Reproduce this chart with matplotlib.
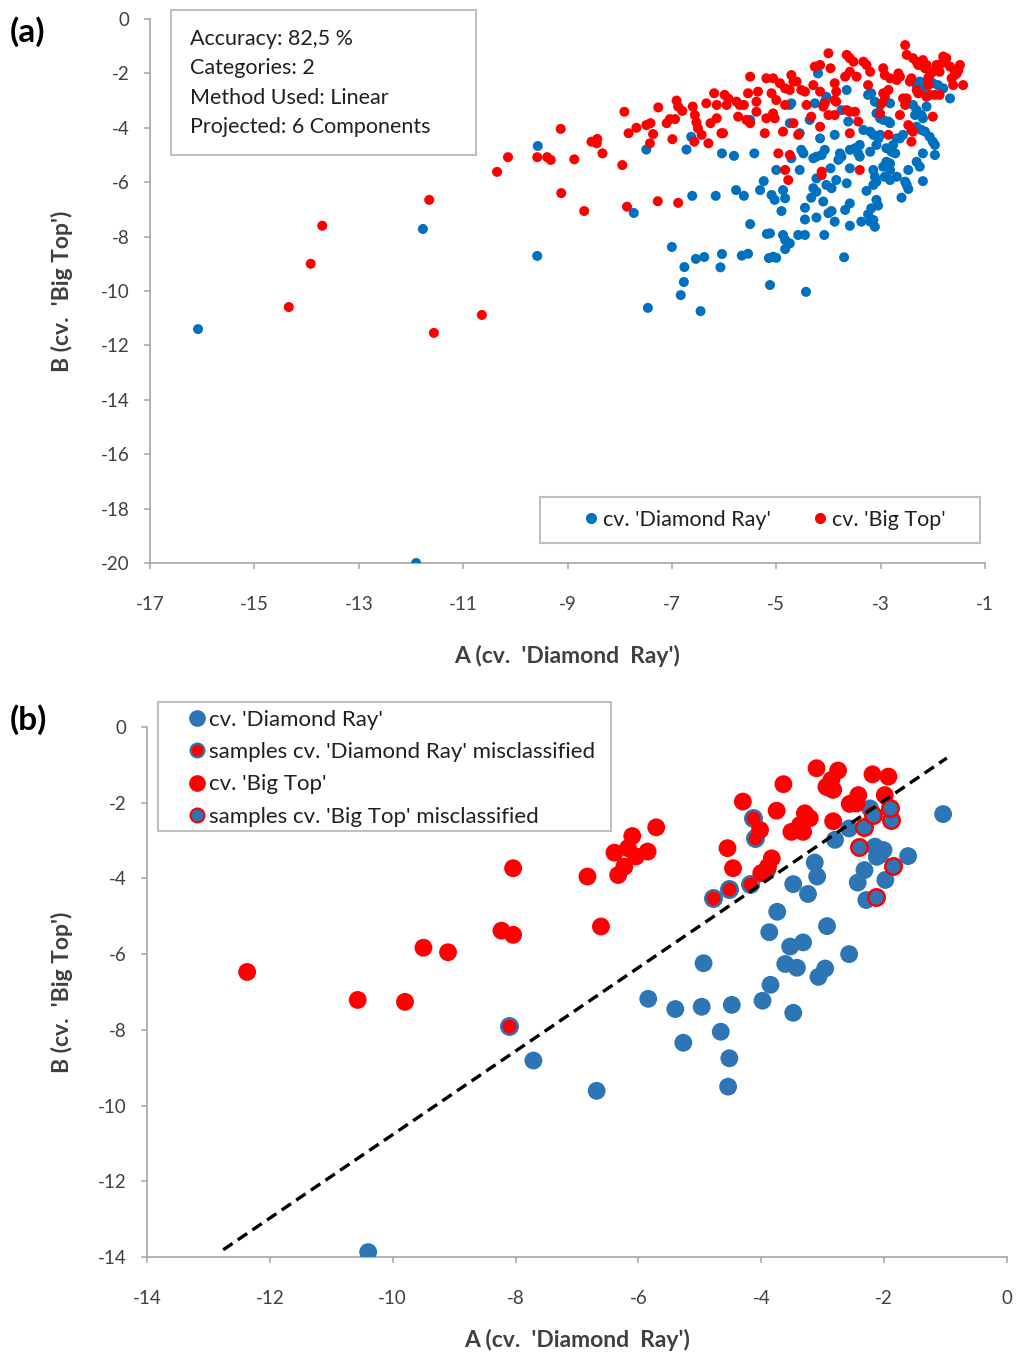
import numpy as np
import matplotlib
matplotlib.use('Agg')
import matplotlib.pyplot as plt
from matplotlib.patches import Rectangle
from matplotlib.lines import Line2D

plt.rcParams['font.family'] = ['Lato', 'DejaVu Sans']
plt.rcParams['axes.unicode_minus'] = False

# ---- panel (a): projected samples, two cultivars
a_blue = [
    (-16.08, -11.4), (-11.9, -20.0), (-11.77, -7.72), (-9.58, -8.71), (-9.57, -4.67),
    (-7.73, -7.13), (-7.49, -4.8), (-7.46, -10.62), (-7.0, -8.38), (-6.76, -9.12),
    (-6.77, -9.67), (-6.83, -10.15), (-6.54, -8.82), (-6.38, -8.75), (-6.61, -6.5),
    (-6.16, -6.5), (-5.77, -6.29), (-5.62, -6.5), (-5.31, -6.29), (-5.24, -5.96),
    (-5.5, -7.54), (-5.18, -7.9), (-5.14, -8.79), (-6.45, -10.74), (-6.07, -9.13),
    (-6.04, -8.64), (-5.66, -8.7), (-5.54, -8.63), (-5.12, -9.78), (-4.43, -10.03),
    (-6.72, -4.8), (-6.63, -4.33), (-6.04, -4.94), (-5.81, -5.03), (-5.42, -4.94),
    (-5.5, -3.71),
    (-4.2, -2.0), (-3.65, -2.61), (-3.24, -2.79), (-3.18, -2.73), (-3.11, -3.04),
    (-3.01, -3.16), (-2.82, -3.1), (-3.08, -3.47), (-3.01, -3.65), (-2.95, -3.71),
    (-2.85, -3.77), (-2.82, -3.83), (-4.07, -3.04), (-4.04, -2.86), (-4.26, -3.1),
    (-3.75, -3.35), (-3.62, -3.77), (-3.33, -4.08), (-3.2, -4.14), (-3.14, -4.26),
    (-3.04, -4.39), (-3.88, -4.26), (-4.16, -4.39), (-4.55, -4.2), (-4.74, -3.16),
    (-4.71, -3.1), (-4.36, -3.71), (-4.74, -3.83), (-2.31, -2.43), (-2.25, -2.3),
    (-2.19, -2.55), (-2.0, -2.36), (-1.9, -2.43), (-1.8, -2.55), (-1.67, -2.92),
    (-2.38, -3.16), (-2.31, -3.35), (-2.34, -3.53), (-2.22, -3.53), (-2.19, -3.65),
    (-2.12, -3.22), (-2.57, -4.26), (-2.63, -4.39), (-2.31, -3.96), (-2.22, -4.08),
    (-2.15, -4.14), (-2.06, -4.33), (-2.0, -4.51), (-1.96, -4.63), (-1.96, -5.0),
    (-2.19, -4.94), (-2.31, -5.25), (-2.25, -5.43), (-2.47, -5.55), (-2.69, -4.39),
    (-2.76, -4.63), (-3.01, -4.26), (-3.08, -4.63), (-3.2, -4.88), (-2.89, -4.75),
    (-2.79, -4.88), (-2.72, -4.94), (-2.89, -5.25), (-2.82, -5.31), (-3.4, -4.63),
    (-3.49, -4.75), (-3.59, -4.81), (-3.43, -4.94), (-3.4, -5.06), (-3.78, -4.94),
    (-3.75, -5.06), (-3.81, -5.18), (-4.07, -4.81), (-4.13, -5.0), (-4.23, -5.06),
    (-4.29, -5.12), (-4.52, -4.81), (-4.48, -4.94), (-4.71, -5.12), (-5.0, -5.55),
    (-4.55, -5.55), (-3.96, -5.49), (-3.59, -5.49), (-3.14, -5.55), (-2.95, -5.43),
    (-2.82, -5.55),
    (-4.23, -5.86), (-4.04, -6.1), (-3.94, -6.22), (-3.85, -5.92), (-3.65, -6.04),
    (-4.29, -6.22), (-4.23, -6.35), (-4.33, -6.57), (-4.1, -6.71), (-4.87, -6.29),
    (-4.83, -6.59), (-5.03, -6.65), (-5.09, -6.47), (-4.9, -7.06), (-4.45, -6.94),
    (-4.45, -7.37), (-4.23, -7.3), (-4.0, -7.14), (-3.94, -7.06), (-3.88, -7.45),
    (-3.68, -7.02), (-3.59, -6.78), (-3.59, -7.6), (-3.37, -7.45), (-3.24, -7.18),
    (-3.18, -6.96), (-3.08, -6.65), (-3.05, -6.86), (-3.2, -7.45), (-3.14, -7.39),
    (-3.11, -7.64), (-3.27, -6.32), (-3.14, -6.1), (-3.08, -5.98), (-3.11, -5.8),
    (-2.92, -5.8), (-2.82, -5.92), (-2.69, -5.8), (-2.53, -5.98), (-2.47, -6.25),
    (-2.5, -6.1), (-2.6, -6.57), (-2.19, -5.96), (-5.12, -7.88), (-4.87, -7.94),
    (-4.83, -8.12), (-4.74, -8.25), (-4.83, -8.46), (-4.58, -7.94), (-4.45, -7.94),
    (-4.08, -7.94), (-5.06, -8.74), (-5.0, -8.78), (-3.7, -8.76),
]
a_red = [
    (-14.34, -10.59), (-13.92, -9.0), (-13.7, -7.6), (-11.65, -6.65), (-11.56, -11.54),
    (-10.64, -10.88), (-10.35, -5.62), (-10.14, -5.08), (-9.58, -5.08), (-9.39, -5.08),
    (-9.32, -5.18), (-9.13, -4.04), (-9.12, -6.4), (-8.68, -7.06), (-7.86, -6.9),
    (-7.27, -6.7), (-6.88, -6.76),
    (-8.87, -5.16), (-8.54, -4.51), (-8.43, -4.41), (-8.44, -4.57), (-8.33, -4.94),
    (-7.95, -5.37), (-7.91, -3.41), (-7.83, -4.2), (-7.68, -4.0), (-7.49, -3.9),
    (-7.41, -3.83), (-7.36, -4.23), (-7.42, -4.57), (-7.26, -3.25), (-7.1, -3.83),
    (-7.04, -3.68), (-6.94, -3.68), (-6.99, -4.42), (-6.91, -3.0), (-6.88, -3.22),
    (-6.8, -3.38), (-6.6, -3.22), (-6.56, -3.53), (-6.53, -3.8), (-6.5, -4.02),
    (-6.43, -4.26), (-6.34, -3.1), (-6.26, -3.83), (-6.57, -4.51), (-6.3, -4.57),
    (-6.19, -2.73), (-6.14, -3.16), (-6.14, -3.65), (-6.05, -4.2), (-6.02, -4.2),
    (-5.99, -2.79), (-5.92, -2.92), (-5.95, -3.16), (-5.76, -3.04), (-5.7, -3.16),
    (-5.62, -3.16), (-5.73, -3.59), (-5.57, -3.71), (-5.5, -3.83), (-5.54, -2.73),
    (-5.5, -2.12), (-5.35, -2.67), (-5.38, -3.04), (-5.38, -3.41), (-5.22, -4.2),
    (-5.19, -3.65), (-5.19, -2.18),
    (-4.0, -1.26), (-4.26, -1.75), (-4.16, -1.69), (-3.96, -1.81), (-3.65, -1.32),
    (-3.59, -1.44), (-3.52, -1.57), (-3.33, -1.57), (-3.27, -1.69), (-3.2, -1.94),
    (-3.59, -1.94), (-3.46, -2.12), (-3.68, -2.12), (-5.06, -2.18), (-4.71, -2.06),
    (-4.67, -2.3), (-4.61, -2.3), (-4.93, -2.36), (-4.83, -2.55), (-4.74, -2.61),
    (-4.52, -2.61), (-4.45, -2.67), (-4.29, -2.43), (-4.16, -2.67), (-3.88, -2.36),
    (-3.85, -2.67), (-3.88, -2.98), (-3.85, -3.04), (-4.07, -3.1), (-4.1, -3.22),
    (-4.42, -3.16), (-4.83, -3.16), (-5.06, -3.47), (-5.03, -3.65), (-4.33, -3.59),
    (-4.16, -3.96), (-4.0, -3.53), (-3.88, -3.53), (-3.65, -3.35), (-3.59, -3.41),
    (-3.49, -3.41), (-3.43, -3.77), (-3.59, -4.2), (-4.58, -4.26), (-4.67, -3.83),
    (-4.87, -4.14), (-4.96, -4.94), (-4.74, -5.0), (-4.83, -5.55), (-4.13, -5.61),
    (-3.4, -5.55), (-3.24, -2.43), (-2.95, -1.81), (-2.92, -2.06), (-2.82, -2.18),
    (-2.66, -2.0), (-2.69, -2.24), (-2.63, -2.12), (-2.95, -2.73), (-2.92, -2.86),
    (-2.85, -2.61), (-2.98, -3.1), (-3.01, -3.47), (-2.63, -3.53), (-2.57, -2.92),
    (-2.5, -2.92), (-2.53, -3.16), (-2.41, -2.18), (-2.44, -2.3), (-2.31, -2.61),
    (-2.28, -2.73), (-2.47, -3.9), (-2.41, -4.08), (-2.38, -4.14), (-2.85, -4.26),
    (-2.41, -4.51), (-2.53, -0.96), (-2.5, -1.32), (-2.38, -1.44), (-2.31, -1.57),
    (-2.28, -1.69), (-2.19, -1.51), (-2.12, -1.69), (-2.15, -1.81), (-2.06, -2.06),
    (-2.09, -2.18), (-2.09, -2.43), (-2.0, -1.94), (-1.93, -1.69), (-1.8, -1.38),
    (-1.74, -1.44), (-1.83, -1.63), (-1.93, -1.81), (-1.87, -1.94), (-2.06, -2.79),
    (-1.96, -2.79), (-1.87, -2.79), (-2.12, -2.86), (-1.67, -1.75), (-1.58, -1.88),
    (-1.48, -1.69), (-1.64, -2.18), (-1.61, -2.43), (-1.58, -2.06), (-1.42, -2.43),
    (-1.51, -1.88), (-1.54, -2.0), (-2.0, -3.59), (-5.09, -2.73), (-5.0, -2.98),
    (-4.77, -5.92), (-4.13, -5.74),
]
a_info = ['Accuracy: 82,5 %', 'Categories: 2', 'Method Used: Linear',
          'Projected: 6 Components']

# ---- panel (b): validation samples and decision line
b_blue = [
    (-10.4, -13.87), (-7.71, -8.81), (-6.68, -9.61), (-5.84, -7.18), (-5.4, -7.45),
    (-4.97, -7.39), (-4.48, -7.34), (-4.94, -6.24), (-5.27, -8.34), (-4.66, -8.05),
    (-4.52, -8.75), (-4.54, -9.5), (-3.98, -7.23), (-3.85, -6.81), (-3.87, -5.42),
    (-3.74, -4.88), (-3.53, -5.8), (-3.32, -5.69), (-2.93, -5.26), (-2.57, -6.0),
    (-3.61, -6.26), (-3.42, -6.36), (-2.96, -6.38), (-3.07, -6.6), (-3.48, -7.55),
    (-3.48, -4.15), (-3.24, -4.41), (-3.09, -3.95), (-3.13, -3.58), (-2.8, -2.98),
    (-2.57, -2.68), (-1.61, -3.41), (-1.04, -2.3), (-2.32, -3.78), (-2.43, -4.11),
    (-1.98, -4.04), (-2.29, -4.57), (-2.15, -3.16), (-2.01, -3.25), (-2.12, -3.43),
    (-2.07, -3.38), (-2.23, -2.15),
]
b_blue_miss = [
    (-8.1, -7.89), (-4.78, -4.52), (-4.52, -4.29), (-4.18, -4.15), (-4.13, -2.41),
    (-4.1, -2.94), (-3.93, -3.78), (-2.89, -1.58),
]
b_red = [
    (-12.37, -6.47), (-10.57, -7.21), (-9.8, -7.26), (-9.5, -5.83), (-9.1, -5.95),
    (-8.23, -5.38), (-8.04, -5.49), (-8.04, -3.73), (-6.83, -3.95), (-6.61, -5.27),
    (-6.39, -3.32), (-6.33, -3.91), (-6.23, -3.69), (-6.17, -3.2), (-6.1, -2.88),
    (-6.04, -3.42), (-5.85, -3.29), (-5.71, -2.65),
    (-3.1, -1.09), (-2.75, -1.15), (-2.86, -1.4), (-2.94, -1.58), (-2.83, -1.66),
    (-2.19, -1.25), (-1.93, -1.31), (-3.64, -1.51), (-4.3, -1.97), (-3.75, -2.21),
    (-3.29, -2.28), (-3.21, -2.41), (-3.37, -2.59), (-3.51, -2.77), (-3.32, -2.77),
    (-2.83, -2.49), (-2.42, -1.8), (-2.56, -2.03), (-2.45, -2.02), (-1.99, -1.8),
    (-4.55, -3.2), (-4.46, -3.73), (-3.83, -3.47), (-3.89, -3.69), (-4.0, -3.86),
    (-4.02, -2.72),
]
b_red_miss = [
    (-2.32, -2.63), (-2.41, -3.16), (-1.85, -3.66), (-2.14, -4.48), (-1.89, -2.46),
    (-1.9, -2.15), (-2.18, -2.32),
]
b_line_x = [-12.76, -0.98]
b_line_y = [-13.81, -0.82]

BLUE_A = '#0070C0'
BLUE_B = '#2E75B6'
RED = '#FF0000'
AXIS_GRAY = '#A6A6A6'
FRAME_GRAY = '#BFBFBF'
TEXT = '#202020'


def xy(points):
    arr = np.array(points)
    return arr[:, 0], arr[:, 1]


def style_axes(ax):
    for side in ['top', 'right']:
        ax.spines[side].set_visible(False)
    for side in ['left', 'bottom']:
        ax.spines[side].set_color(AXIS_GRAY)
        ax.spines[side].set_linewidth(1.2)
    ax.tick_params(axis='both', direction='out', length=4, width=1.1,
                   color=AXIS_GRAY, labelsize=13.5, labelcolor='#404040')
    ax.tick_params(axis='x', pad=20)
    ax.tick_params(axis='y', pad=11)


def frame_box(x0, y0, x1, y1):
    # rectangle given in reference pixel coords (top-left origin)
    fig.patches.append(Rectangle((x0 / 1016, 1 - y1 / 1360), (x1 - x0) / 1016,
                                 (y1 - y0) / 1360, transform=fig.transFigure,
                                 facecolor='white', edgecolor=FRAME_GRAY,
                                 linewidth=1.5, zorder=1))


fig = plt.figure(figsize=(10.16, 13.6), dpi=100)

# panel (a)
ax1 = fig.add_axes([150 / 1016, 1 - 563 / 1360, 835 / 1016, 544 / 1360])
ax1.set_zorder(2)
ax1.patch.set_alpha(0)
bx, by = xy(a_blue)
rx, ry = xy(a_red)
ax1.scatter(bx, by, s=52, color=BLUE_A, edgecolors='none', zorder=3)
ax1.scatter(rx, ry, s=52, color=RED, edgecolors='none', zorder=4)
ax1.set_xlim(-17, -1)
ax1.set_ylim(-20, 0)
ax1.set_xticks(np.arange(-17, 0, 2))
ax1.set_yticks(np.arange(-20, 1, 2))
style_axes(ax1)
ax1.set_xlabel("A (cv.  'Diamond  Ray')", fontsize=16.5, fontweight='bold', color='#404040')
ax1.set_ylabel("B (cv.  'Big Top')", fontsize=16.5, fontweight='bold', color='#404040')
ax1.xaxis.set_label_coords(0.5, -(656 - 563) / 544)
ax1.xaxis.label.set_va('center')
ax1.yaxis.set_label_coords((62 - 150) / 835, 0.5)
ax1.yaxis.label.set_va('center')

# legend (a) drawn inside its own frame
frame_box(540, 497, 980, 543)
h = [Line2D([], [], marker='o', ls='none', color=BLUE_A, markersize=7),
     Line2D([], [], marker='o', ls='none', color=RED, markersize=7)]
leg1 = ax1.legend(h, ["cv. 'Diamond Ray'", "cv. 'Big Top'"], ncol=2, fontsize=15.5,
                  loc='center left',
                  bbox_to_anchor=((580 - 150) / 835, 1 - (520 - 19) / 544),
                  frameon=False, handletextpad=0.05, columnspacing=1.8,
                  handlelength=1.0, borderpad=0, borderaxespad=0)
for t in leg1.get_texts():
    t.set_color(TEXT)

# info box
frame_box(171, 10, 476, 155)
for i, line in enumerate(a_info):
    fig.text(190 / 1016, 1 - (39 + i * 29.3) / 1360, line, fontsize=15.5,
             va='center', ha='left', color=TEXT, zorder=6)

fig.text(10 / 1016, 1 - 32 / 1360, '(a)', fontsize=24, fontweight='bold', va='center')

# panel (b)
ax2 = fig.add_axes([147 / 1016, 1 - 1257 / 1360, 860 / 1016, 530 / 1360])
ax2.set_zorder(2)
ax2.patch.set_alpha(0)
ax2.scatter(*xy(b_blue), s=165, color=BLUE_B, edgecolors='none', zorder=3)
ax2.scatter(*xy(b_blue_miss), s=140, color=RED, edgecolors=BLUE_B, linewidths=1.8, zorder=4)
ax2.scatter(*xy(b_red), s=165, color=RED, edgecolors='none', zorder=5)
ax2.scatter(*xy(b_red_miss), s=140, color=BLUE_B, edgecolors=RED, linewidths=1.8, zorder=6)
ax2.plot(b_line_x, b_line_y, color='black', lw=2.4, ls=(0, (3.4, 1.9)), zorder=7)
ax2.set_xlim(-14, 0)
ax2.set_ylim(-14, 0)
ax2.set_xticks(np.arange(-14, 1, 2))
ax2.set_yticks(np.arange(-14, 1, 2))
style_axes(ax2)
ax2.set_xlabel("A (cv.  'Diamond  Ray')", fontsize=16.5, fontweight='bold', color='#404040')
ax2.set_ylabel("B (cv.  'Big Top')", fontsize=16.5, fontweight='bold', color='#404040')
ax2.xaxis.set_label_coords(0.5, -(1340 - 1257) / 530)
ax2.xaxis.label.set_va('center')
ax2.yaxis.set_label_coords((62 - 147) / 860, 0.5)
ax2.yaxis.label.set_va('center')

frame_box(158, 702, 611, 831)
h2 = [Line2D([], [], marker='o', ls='none', color=BLUE_B, markersize=11),
      Line2D([], [], marker='o', ls='none', markerfacecolor=RED, markeredgecolor=BLUE_B,
             markeredgewidth=1.5, markersize=10),
      Line2D([], [], marker='o', ls='none', color=RED, markersize=11),
      Line2D([], [], marker='o', ls='none', markerfacecolor=BLUE_B, markeredgecolor=RED,
             markeredgewidth=1.5, markersize=10)]
labels2 = ["cv. 'Diamond Ray'", "samples cv. 'Diamond Ray' misclassified",
           "cv. 'Big Top'", "samples cv. 'Big Top' misclassified"]
leg2 = ax2.legend(h2, labels2, fontsize=16, loc='upper left',
                  bbox_to_anchor=((186 - 147) / 860, 1 + (727 - 710) / 530),
                  frameon=False, handletextpad=0.05, handlelength=1.0,
                  labelspacing=0.55, borderpad=0, borderaxespad=0)
for t in leg2.get_texts():
    t.set_color(TEXT)

fig.text(10 / 1016, 1 - 720 / 1360, '(b)', fontsize=24, fontweight='bold', va='center')

fig.savefig('out.png', dpi=100, facecolor='white')
